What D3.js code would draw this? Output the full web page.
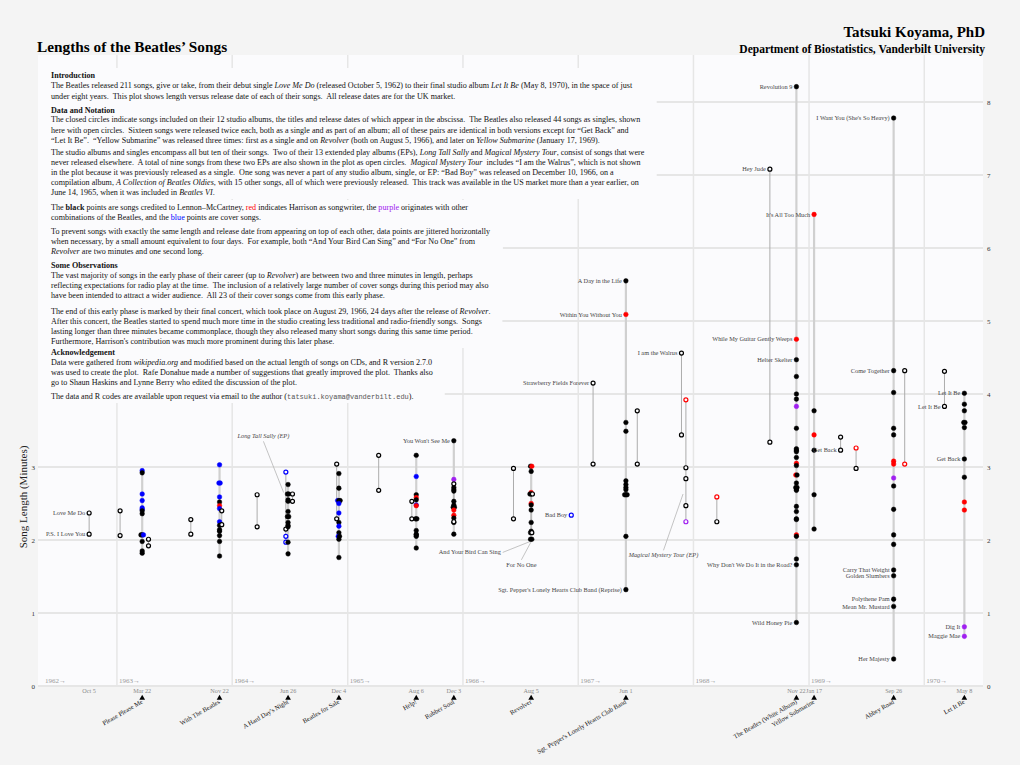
<!DOCTYPE html>
<html><head><meta charset="utf-8">
<script src="https://cdn.jsdelivr.net/npm/d3@7"></script>
<style>
body{margin:0;background:#f4f4f4;}
svg{display:block;font-family:"Liberation Serif","Times New Roman",serif;}
text{white-space:pre;}
</style></head><body>
<svg id="chart" width="1020" height="765"></svg>
<script>
// ---------- DATA ----------
const releaseDates = ["1962-10-05","1963-01-11","1963-03-22","1963-04-11","1963-08-23","1963-11-22","1963-11-29","1964-03-20","1964-06-19","1964-06-26","1964-07-10","1964-11-27","1964-12-04","1965-04-09","1965-07-23","1965-08-06","1965-12-03","1965-12-03","1966-06-10","1966-08-05","1966-08-05","1966-12-10","1967-02-17","1967-06-01","1967-07-07","1967-11-24","1967-12-08","1968-03-15","1968-08-30","1968-11-22","1969-01-17","1969-04-11","1969-05-30","1969-09-26","1969-10-31","1970-03-06","1970-05-08"];
const releaseKinds = ["single","single","album","single","single","album","single","single","ep","album","single","single","album","single","single","album","album","single","single","album","single","comp","single","album","single","single","ep","single","single","album","album","single","single","album","single","single","album"];
const albumTitles = ["Please Please Me","With The Beatles","A Hard Day's Night","Beatles for Sale","Help!","Rubber Soul","Revolver","Sgt. Pepper's Lonely Hearts Club Band","The Beatles (White Album)","Yellow Submarine","Abbey Road","Let It Be"];
// song lengths (minutes) per release
const songLengths = [
  [2.37,2.08],
  [2.06,2.40],
  [2.95,2.92,2.63,2.54,2.44,2.42,2.40,2.36,2.07,2.07,2.07,1.98,1.85,1.82],
  [2.01,1.92],
  [2.28,2.08],
  [3.03,2.78,2.78,2.59,2.52,2.47,2.43,2.25,2.20,2.14,2.12,2.06,1.98,1.78],
  [2.40,2.21],
  [2.18,2.62],
  [2.05,2.15,2.93,1.97],
  [2.76,2.63,2.63,2.55,2.53,2.39,2.32,2.32,2.24,2.20,2.18,1.97,1.81],
  [2.63,2.53],
  [2.29,3.04],
  [2.91,2.71,2.54,2.54,2.54,2.50,2.37,2.24,2.19,2.10,2.05,2.05,2.01,1.76],
  [3.16,2.68],
  [2.29,2.53],
  [3.16,2.87,2.62,2.58,2.55,2.48,2.47,2.29,2.29,2.13,2.08,2.07,2.05,1.89],
  [3.36,2.83,2.72,2.69,2.67,2.53,2.48,2.45,2.45,2.41,2.34,2.30,2.24,2.08],
  [2.77,2.25],
  [2.29,2.98],
  [3.01,3.01,2.94,2.65,2.63,2.63,2.50,2.48,2.41,2.24,2.12,2.10,2.01,2.01],
  [2.10,2.63],
  [2.34],
  [4.15,3.04],
  [5.55,5.09,3.61,3.49,2.81,2.76,2.72,2.69,2.62,2.62,2.62,2.05,1.32],
  [3.77,3.04],
  [4.56,3.44],
  [3.92,2.99,2.84,2.47,2.25],
  [2.25,2.59],
  [7.08,3.34],
  [8.21,4.75,4.47,4.24,4.00,3.93,3.83,3.53,3.25,3.23,3.21,3.13,3.05,3.02,2.89,2.89,2.78,2.72,2.72,2.70,2.68,2.46,2.39,2.29,2.28,2.07,2.05,1.74,1.66,0.87],
  [6.46,3.77,3.44,3.23,2.62,2.15],
  [3.23,3.41],
  [2.98,3.26],
  [7.78,4.32,4.02,3.53,3.44,3.08,3.04,2.85,2.74,2.42,2.07,1.94,1.59,1.51,1.19,1.09,0.37],
  [3.04,4.32],
  [3.83,4.31],
  [4.01,3.86,3.77,3.61,3.61,3.54,3.11,2.86,2.52,2.41,0.81,0.68]
];
// songwriter code per song: k Lennon-McCartney, r Harrison, p other, b cover
const songWriters = [
  "kk","kk","bkbbbbkkkkbkkk","kk","kk","bbbbkrbbkkkkkk","kk","kk","bkbb","kkkkkkkkkkkkk","kk","kk",
  "kkbkkbbkbkbkkk","kk","kk","kbkrkbrkkkkkkk","kpkkkkkkkrrkkk","kk","kk","krkrkkrkkkkkkk","kk","b","kk",
  "krkkkkkkkkkkk","kk","kk","rkkkp","kr","kk","krkkkkpkkkkkrkrkkkkkkkkkkrkkkk","rkrkkk","kk","kr",
  "kkkkkrrpkkkkkkkkk","rk","kk","kkkkkkkkrrpp"
];
// labelled songs: release index + length
const labelTexts = ["Love Me Do","P.S. I Love You","You Won't See Me","Bad Boy","Strawberry Fields Forever","A Day in the Life","Within You Without You","Sgt. Pepper's Lonely Hearts Club Band (Reprise)","I am the Walrus","Hey Jude","Revolution 9","While My Guitar Gently Weeps","Helter Skelter","Why Don't We Do It in the Road?","Wild Honey Pie","It's All Too Much","Get Back","I Want You (She's So Heavy)","Come Together","Carry That Weight","Golden Slumbers","Polythene Pam","Mean Mr. Mustard","Her Majesty","Let It Be","Let It Be","Get Back","Dig It","Maggie Mae"];
const labelRelease = [0,0,16,21,22,23,23,23,25,28,29,29,29,29,29,30,31,33,33,33,33,33,33,33,35,36,36,36,36];
const labelValue = [2.37,2.08,3.36,2.34,4.15,5.55,5.09,1.32,4.56,7.08,8.21,4.75,4.47,1.66,0.87,6.46,3.23,7.78,4.32,1.59,1.51,1.19,1.09,0.37,3.83,4.01,3.11,0.81,0.68];
// callout annotations (label anchor and target in data units)
const calloutTexts = ["Long Tall Sally (EP)","Magical Mystery Tour (EP)","And Your Bird Can Sing","For No One"];
const calloutItalic = [true,true,false,false];
const calloutDates = ["1964-04-09","1967-09-28","1966-05-01","1966-07-05"];
const calloutValues = [3.42,1.79,1.83,1.66];
const calloutAnchor = ["middle","middle","end","middle"];
const calloutTargetDates = ["1964-06-12","1967-11-29","1966-08-02","1966-08-04"];
const calloutTargetValues = [2.65,2.63,1.98,1.97];
const yTicks = [0,1,2,3,4,5,6,7,8];
const leftYTicks = [0,1,2,3];
const yearTicks = ["1962","1963","1964","1965","1966","1967","1968","1969","1970"];

// ---------- SETUP ----------
const svg = d3.select("#chart");
const W = 1020, H = 765;
const parse = d3.timeParse("%Y-%m-%d");
const L = 38, R = 983, T = 55, B = 686;
const x = d3.scaleTime().domain([parse("1962-04-26"), parse("1970-07-06")]).range([L, R]);
const y = d3.scaleLinear().domain([0, (B - T) / 73]).range([B, T]);
const colorMap = {k:"#000000", r:"#ff0000", p:"#a020f0", b:"#0000ff"};
const panelColor = "#fbfbfd";

svg.append("rect").attr("width",W).attr("height",H).attr("fill","#f4f4f4");
svg.append("rect").attr("x",L).attr("y",T).attr("width",R-L).attr("height",B-T).attr("fill",panelColor);

// grid
const grid = svg.append("g");
grid.selectAll("line.h").data(yTicks).join("line")
  .attr("x1",L).attr("x2",R).attr("y1",d=>y(d)).attr("y2",d=>y(d))
  .attr("stroke","#e6e6e6").attr("stroke-width",2);
grid.selectAll("line.v").data(yearTicks.slice(1)).join("line")
  .attr("x1",d=>x(parse(d+"-01-01"))).attr("x2",d=>x(parse(d+"-01-01")))
  .attr("y1",T).attr("y2",B).attr("stroke","#e6e6e6").attr("stroke-width",1.5);

// year labels
svg.append("g").selectAll("text").data(yearTicks).join("text")
  .attr("x",d=> d==="1962" ? L+7 : x(parse(d+"-01-01"))+2).attr("y",B-3)
  .attr("font-size",7).attr("fill","#9a9a9a").text(d=>d+"\u2192");

// ---------- TEXT BLOCK ----------
const sections = [
  [8.1, [
    [78,[["b","Introduction"]]],
    [88,[["n","The Beatles released 211 songs, give or take, from their debut single "],["i","Love Me Do"],["n"," (released October 5, 1962) to their final studio album "],["i","Let It Be"],["n"," (May 8, 1970), in the space of just"]]],
    [99,[["n","under eight years.  This plot shows length versus release date of each of their songs.  All release dates are for the UK market."]]],
    [113,[["b","Data and Notation"]]],
    [122,[["n","The closed circles indicate songs included on their 12 studio albums, the titles and release dates of which appear in the abscissa.  The Beatles also released 44 songs as singles, shown"]]],
    [133,[["n","here with open circles.  Sixteen songs were released twice each, both as a single and as part of an album; all of these pairs are identical in both versions except for \u201cGet Back\u201d and"]]],
    [143,[["n","\u201cLet It Be\u201d.  \u201cYellow Submarine\u201d was released three times: first as a single and on "],["i","Revolver"],["n"," (both on August 5, 1966), and later on "],["i","Yellow Submarine"],["n"," (January 17, 1969)."]]],
    [155,[["n","The studio albums and singles encompass all but ten of their songs.  Two of their 13 extended play albums (EPs), "],["i","Long Tall Sally"],["n"," and "],["i","Magical Mystery Tour"],["n",", consist of songs that were"]]],
    [165,[["n","never released elsewhere.  A total of nine songs from these two EPs are also shown in the plot as open circles.  "],["i","Magical Mystery Tour"],["n","  includes \u201cI am the Walrus\u201d, which is not shown"]]],
    [175,[["n","in the plot because it was previously released as a single.  One song was never a part of any studio album, single, or EP: \u201cBad Boy\u201d was released on December 10, 1966, on a"]]],
    [185,[["n","compilation album, "],["i","A Collection of Beatles Oldies"],["n",", with 15 other songs, all of which were previously released.  This track was available in the US market more than a year earlier, on"]]],
    [195,[["n","June 14, 1965, when it was included in "],["i","Beatles VI"],["n","."]]]
  ]],
  [8.1, [
    [210,[["n","The "],["b","black"],["n"," points are songs credited to Lennon\u2013McCartney, "],["r","red"],["n"," indicates Harrison as songwriter, the "],["p","purple"],["n"," originates with other"]]],
    [220,[["n","combinations of the Beatles, and the "],["u","blue"],["n"," points are cover songs."]]],
    [234,[["n","To prevent songs with exactly the same length and release date from appearing on top of each other, data points are jittered horizontally"]]],
    [244,[["n","when necessary, by a small amount equivalent to four days.  For example, both \u201cAnd Your Bird Can Sing\u201d and \u201cFor No One\u201d from"]]],
    [254,[["i","Revolver"],["n"," are two minutes and one second long."]]]
  ]],
  [8.1, [
    [268,[["b","Some Observations"]]],
    [278,[["n","The vast majority of songs in the early phase of their career (up to "],["i","Revolver"],["n",") are between two and three minutes in length, perhaps"]]],
    [288,[["n","reflecting expectations for radio play at the time.  The inclusion of a relatively large number of cover songs during this period may also"]]],
    [298,[["n","have been intended to attract a wider audience.  All 23 of their cover songs come from this early phase."]]],
    [314,[["n","The end of this early phase is marked by their final concert, which took place on August 29, 1966, 24 days after the release of "],["i","Revolver"],["n","."]]],
    [324,[["n","After this concert, the Beatles started to spend much more time in the studio creating less traditional and radio-friendly songs.  Songs"]]],
    [334,[["n","lasting longer than three minutes became commonplace, though they also released many short songs during this same time period."]]],
    [344,[["n","Furthermore, Harrison's contribution was much more prominent during this later phase."]]]
  ]],
  [8.1, [
    [355,[["b","Acknowledgement"]]],
    [365,[["n","Data were gathered from "],["i","wikipedia.org"],["n"," and modified based on the actual length of songs on CDs, and R version 2.7.0"]]],
    [375,[["n","was used to create the plot.  Rafe Donahue made a number of suggestions that greatly improved the plot.  Thanks also"]]],
    [385,[["n","go to Shaun Haskins and Lynne Berry who edited the discussion of the plot."]]],
    [399,[["n","The data and R codes are available upon request via email to the author ("],["m","tatsuki.koyama@vanderbilt.edu"],["n",")."]]]
  ]]
];
const bgG = svg.append("g");
const textG = svg.append("g");
const TX = 51;
sections.forEach(([fs,sec])=>{
  const g = textG.append("g");
  sec.forEach(([yy,segs])=>{
    const t = g.append("text").attr("x",TX).attr("y",yy).attr("font-size",fs).attr("fill","#111");
    segs.forEach(([st,s])=>{
      const sp = t.append("tspan").text(s);
      if(st==="b") sp.attr("font-weight","bold");
      if(st==="i") sp.attr("font-style","italic");
      if(st==="r") sp.attr("fill","#ff0000");
      if(st==="p") sp.attr("fill","#a020f0");
      if(st==="u") sp.attr("fill","#0000ff");
      if(st==="m") sp.attr("font-family","'Liberation Mono',monospace").attr("font-size",fs-1.1).attr("fill","#555");
    });
  });
  const bb = g.node().getBBox();
  bgG.append("rect").attr("fill",panelColor)
    .attr("x",L).attr("y",bb.y-3).attr("width",bb.x+bb.width+12-L).attr("height",bb.height+5);
});

// ---------- SONGS ----------
const songs = [];
releaseDates.forEach((d,i)=>{
  songLengths[i].forEach((v,j)=>songs.push({date:parse(d), ri:i, v, c:songWriters[i][j], kind:releaseKinds[i]}));
});
d3.group(songs, s=>releaseDates[s.ri]+"|"+s.v.toFixed(2)).forEach(arr=>{
  const n = arr.length;
  arr.forEach((s,k)=>{ s.jit = (k-(n-1)/2)*4; });
});
const sx = s => x(new Date(+s.date + s.jit*864e5));

// vertical range lines
const lineG = svg.append("g");
releaseDates.forEach((d,i)=>{
  const vals = songLengths[i];
  if(vals.length<2) return;
  const album = releaseKinds[i]==="album";
  lineG.append("line")
    .attr("x1",x(parse(d))).attr("x2",x(parse(d)))
    .attr("y1",y(d3.min(vals))).attr("y2",y(d3.max(vals)))
    .attr("stroke", album ? "#d0d0d0" : "#acacac")
    .attr("stroke-width", album ? 2.2 : 1);
});

// callouts
const cg = svg.append("g");
calloutTexts.forEach((t,i)=>{
  const ax = x(parse(calloutDates[i])), ay = y(calloutValues[i]);
  const tx = x(parse(calloutTargetDates[i])), ty = y(calloutTargetValues[i]);
  const lab = cg.append("text").attr("x",ax).attr("y",ay+2).attr("text-anchor",calloutAnchor[i])
    .attr("font-size",6.3).attr("fill","#444").attr("font-style",calloutItalic[i]?"italic":"normal").text(t);
  const bb = lab.node().getBBox();
  const sxp = calloutAnchor[i]==="end" ? bb.x+bb.width+1 : ax;
  const syp = calloutAnchor[i]==="end" ? ay : (ty<ay ? bb.y-1 : bb.y+bb.height+1);
  cg.append("line").attr("x1",sxp).attr("y1",syp).attr("x2",tx).attr("y2",ty)
    .attr("stroke","#b5b5b5").attr("stroke-width",0.8);
});

// points
const pg = svg.append("g");
pg.selectAll("circle").data(songs).join("circle")
  .attr("cx",sx).attr("cy",d=>y(d.v))
  .attr("r",d=>d.kind==="album"?2.3:2.0)
  .attr("fill",d=>d.kind==="album"?colorMap[d.c]:panelColor)
  .attr("stroke",d=>colorMap[d.c])
  .attr("stroke-width",d=>d.kind==="album"?0.5:1.2);

// labels
const lg = svg.append("g");
labelTexts.forEach((t,i)=>{
  const s = songs.find(s=>s.ri===labelRelease[i] && Math.abs(s.v-labelValue[i])<1e-6);
  lg.append("text").attr("x",sx(s)-4).attr("y",y(s.v)+2.1).attr("text-anchor","end")
    .attr("font-size",6.3).attr("fill","#444").text(t);
});

// ---------- AXES ----------
svg.append("g").selectAll("text").data(yTicks).join("text")
  .attr("x",R+4).attr("y",d=>y(d)+2.5).attr("font-size",7).attr("fill","#333").text(d=>d);
svg.append("g").selectAll("text").data(leftYTicks).join("text")
  .attr("x",L-3).attr("y",d=>y(d)+2.5).attr("text-anchor","end").attr("font-size",7).attr("fill","#333").text(d=>d);
svg.append("text").attr("transform",`translate(27,${y(2)-43}) rotate(-90)`).attr("text-anchor","middle")
  .attr("font-size",11).attr("fill","#222").text("Song Length (Minutes)");

const fmt = d3.timeFormat("%b %-d");
const axisReleases = releaseDates.map((d,i)=>({d:parse(d),kind:releaseKinds[i]})).filter((r,i)=>i===0||r.kind==="album");
const ax = svg.append("g");
ax.selectAll("text.date").data(axisReleases).join("text")
  .attr("x",d=>x(d.d)).attr("y",B+7).attr("text-anchor","middle").attr("font-size",6.2).attr("fill","#8a8a8a")
  .text(d=>fmt(d.d));
const albums = axisReleases.filter(r=>r.kind==="album");
ax.selectAll("path.tri").data(albums).join("path")
  .attr("d",d3.symbol(d3.symbolTriangle,14)).attr("transform",d=>`translate(${x(d.d)},${B+12})`).attr("fill","#000");
ax.selectAll("text.alb").data(albums).join("text")
  .attr("transform",d=>`translate(${x(d.d)+1},${B+17}) rotate(-30)`).attr("text-anchor","end")
  .attr("font-size",6.5).attr("fill","#111").text((d,i)=>albumTitles[i]);

// ---------- TITLES ----------
svg.append("text").attr("x",37).attr("y",52).attr("font-size",15.3).attr("font-weight","bold").attr("fill","#000")
  .text("Lengths of the Beatles\u2019 Songs");
svg.append("text").attr("x",985).attr("y",37).attr("text-anchor","end").attr("font-size",15).attr("font-weight","bold").attr("fill","#000")
  .text("Tatsuki Koyama, PhD");
svg.append("text").attr("x",985).attr("y",53).attr("text-anchor","end").attr("font-size",11.5).attr("font-weight","bold").attr("fill","#000")
  .text("Department of Biostatistics, Vanderbilt University");
</script>
</body></html>
